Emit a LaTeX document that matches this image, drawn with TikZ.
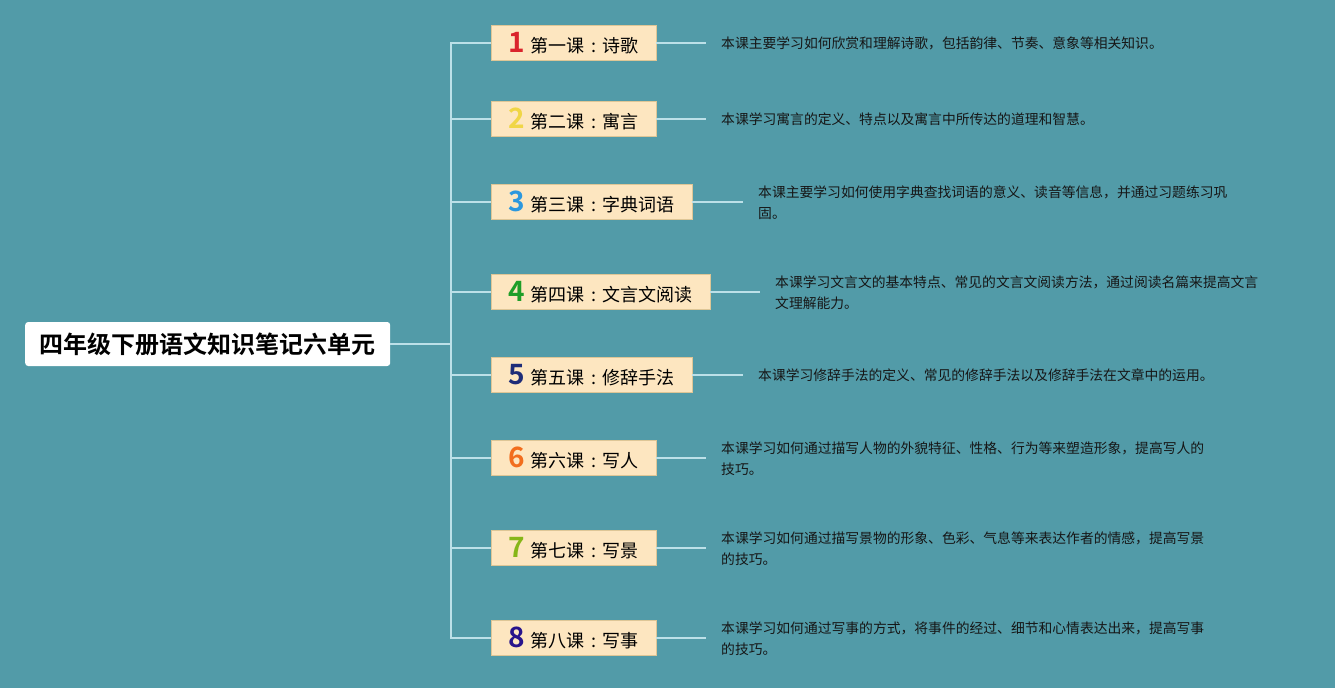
\documentclass[tikz,border=0pt]{standalone}
\usepackage{fontspec}
\setmainfont{Noto Sans CJK SC}[BoldFont={Noto Sans CJK SC Bold}]
\usetikzlibrary{positioning}
\usepackage{xcolor}
\definecolor{cFondo}{RGB}{82,155,168}
\definecolor{cCaja}{RGB}{253,230,192}
\definecolor{cBorde}{RGB}{222,198,150}
\definecolor{cRama}{RGB}{188,224,232}
\definecolor{cTexto}{RGB}{22,22,22}
\definecolor{cUno}{RGB}{218,36,44}
\definecolor{cDos}{RGB}{240,214,70}
\definecolor{cTres}{RGB}{44,152,222}
\definecolor{cCuatro}{RGB}{30,158,40}
\definecolor{cCinco}{RGB}{30,44,120}
\definecolor{cSeis}{RGB}{242,110,30}
\definecolor{cSiete}{RGB}{134,182,24}
\definecolor{cOcho}{RGB}{40,20,140}
\newcommand{\cifra}[2]{{\fontsize{28}{28}\selectfont\bfseries\color{#1}#2}\hspace{6pt}}
\newcommand{\dospuntos}{\makebox[18pt][c]{:}}

\begin{document}
\begin{tikzpicture}[x=1pt, y=-1pt,
     raiz/.style={rectangle, rounded corners=3pt, fill=white, anchor=west,
                  minimum width=365pt, minimum height=44pt,
                  font=\fontsize{24}{28}\selectfont\bfseries},
     caja/.style={rectangle, draw=cBorde, line width=0.8pt, fill=cCaja,
                  anchor=west, inner xsep=17pt, inner ysep=0pt,
                  minimum height=35pt, font=\fontsize{18}{20}\selectfont},
     nota/.style={anchor=west, align=left, inner xsep=15pt, text=cTexto,
                  font=\fontsize{13.8}{21}\selectfont},
     rama/.style={cRama, line width=2pt}]
    \fill[cFondo] (0,0) rectangle (1335,688);
    \useasboundingbox (0,0) rectangle (1335,688);
    \node[raiz] (tema) at (25,344) {四年级下册语文知识笔记六单元};
    \coordinate (eje) at (451,344);
    \node[caja] (l1) at (491,43) {\cifra{cUno}{1}第一课\dospuntos 诗歌};
    \node[caja] (l2) at (491,119) {\cifra{cDos}{2}第二课\dospuntos 寓言};
    \node[caja] (l3) at (491,202) {\cifra{cTres}{3}第三课\dospuntos 字典词语};
    \node[caja] (l4) at (491,292) {\cifra{cCuatro}{4}第四课\dospuntos 文言文阅读};
    \node[caja] (l5) at (491,375) {\cifra{cCinco}{5}第五课\dospuntos 修辞手法};
    \node[caja] (l6) at (491,458) {\cifra{cSeis}{6}第六课\dospuntos 写人};
    \node[caja] (l7) at (491,548) {\cifra{cSiete}{7}第七课\dospuntos 写景};
    \node[caja] (l8) at (491,638) {\cifra{cOcho}{8}第八课\dospuntos 写事};
    \node[nota] (d1) at (706,43) {本课主要学习如何欣赏和理解诗歌，包括韵律、节奏、意象等相关知识。};
    \node[nota] (d2) at (706,119) {本课学习寓言的定义、特点以及寓言中所传达的道理和智慧。};
    \node[nota] (d3) at (743,203) {本课主要学习如何使用字典查找词语的意义、读音等信息，并通过习题练习巩\\固。};
    \node[nota] (d4) at (760,293) {本课学习文言文的基本特点、常见的文言文阅读方法，通过阅读名篇来提高文言\\文理解能力。};
    \node[nota] (d5) at (743,375) {本课学习修辞手法的定义、常见的修辞手法以及修辞手法在文章中的运用。};
    \node[nota] (d6) at (706,459) {本课学习如何通过描写人物的外貌特征、性格、行为等来塑造形象，提高写人的\\技巧。};
    \node[nota] (d7) at (706,549) {本课学习如何通过描写景物的形象、色彩、气息等来表达作者的情感，提高写景\\的技巧。};
    \node[nota] (d8) at (706,639) {本课学习如何通过写事的方式，将事件的经过、细节和心情表达出来，提高写事\\的技巧。};
    \draw[rama] (tema.east) -- (eje);
    \draw[rama] (eje) |- (l1.west);
    \draw[rama] (eje) |- (l2.west);
    \draw[rama] (eje) |- (l3.west);
    \draw[rama] (eje) |- (l4.west);
    \draw[rama] (eje) |- (l5.west);
    \draw[rama] (eje) |- (l6.west);
    \draw[rama] (eje) |- (l7.west);
    \draw[rama] (eje) |- (l8.west);
    \draw[rama] (l1.east) -- (l1.east -| d1.west);
    \draw[rama] (l2.east) -- (l2.east -| d2.west);
    \draw[rama] (l3.east) -- (l3.east -| d3.west);
    \draw[rama] (l4.east) -- (l4.east -| d4.west);
    \draw[rama] (l5.east) -- (l5.east -| d5.west);
    \draw[rama] (l6.east) -- (l6.east -| d6.west);
    \draw[rama] (l7.east) -- (l7.east -| d7.west);
    \draw[rama] (l8.east) -- (l8.east -| d8.west);
  \end{tikzpicture}
\end{document}
